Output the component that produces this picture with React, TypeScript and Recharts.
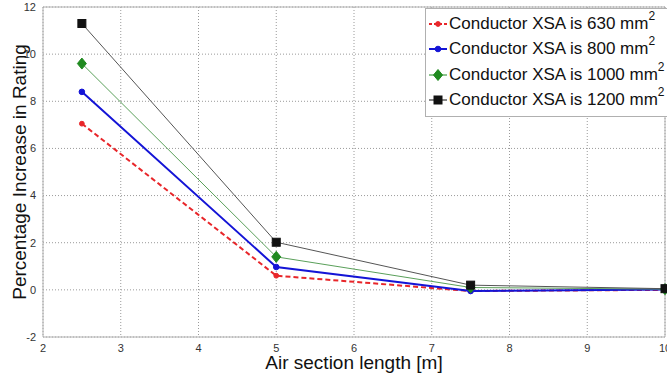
import React from 'react';
import { LineChart, Line, XAxis, YAxis, CartesianGrid, ReferenceLine, Label } from 'recharts';

const airLength = [2.5, 5, 7.5, 10];
const xsa630 = [7.05, 0.6, -0.05, 0.0];
const xsa800 = [8.4, 0.97, -0.05, 0.02];
const xsa1000 = [9.6, 1.4, 0.1, 0.03];
const xsa1200 = [11.3, 2.02, 0.2, 0.05];
const xTicks = [2, 3, 4, 5, 6, 7, 8, 9, 10];
const yTicks = [-2, 0, 2, 4, 6, 8, 10, 12];
const seriesNames = ['630', '800', '1000', '1200'];

const data = airLength.map((x, i) => ({
  x,
  s630: xsa630[i],
  s800: xsa800[i],
  s1000: xsa1000[i],
  s1200: xsa1200[i],
}));

const FONT = '"Liberation Sans", Arial, Helvetica, sans-serif';

type Shape = 'circleS' | 'circle' | 'diamond' | 'square';

const Marker = ({ cx, cy, shape, color }: { cx: number; cy: number; shape: Shape; color: string }) => {
  if (cx == null || cy == null) return null;
  if (shape === 'circleS') return <circle cx={cx} cy={cy} r={2.4} fill={color} stroke={color} />;
  if (shape === 'circle') return <circle cx={cx} cy={cy} r={2.8} fill={color} stroke={color} />;
  if (shape === 'diamond')
    return (
      <polygon
        points={`${cx},${cy - 5.5} ${cx + 4.5},${cy} ${cx},${cy + 5.5} ${cx - 4.5},${cy}`}
        fill={color}
        stroke={color}
      />
    );
  return <rect x={cx - 4} y={cy - 4} width={8} height={8} fill={color} stroke={color} />;
};

const series = [
  { key: 's630', name: seriesNames[0], color: '#e8262a', width: 2, dash: '5 3', shape: 'circleS' as Shape },
  { key: 's800', name: seriesNames[1], color: '#1414d6', width: 2, dash: undefined, shape: 'circle' as Shape },
  { key: 's1000', name: seriesNames[2], color: '#1f8a1f', width: 1, dash: undefined, shape: 'diamond' as Shape },
  { key: 's1200', name: seriesNames[3], color: '#111111', width: 1, dash: undefined, shape: 'square' as Shape },
];

const lineColor = (c: string, k: string) => (k === 's1000' ? '#5aa05a' : k === 's1200' ? '#555' : c);

const LegendBox = () => (
  <div
    style={{
      position: 'absolute',
      left: 425,
      top: 8,
      width: 250,
      background: '#fff',
      border: '1px solid #b0b0b0',
      padding: '2px 0 3px 2px',
      fontFamily: FONT,
      fontSize: 17,
      color: '#111',
      boxSizing: 'border-box',
    }}
  >
    {series.map((s) => (
      <div key={s.key} style={{ display: 'flex', alignItems: 'center', height: 25.5, whiteSpace: 'nowrap' }}>
        <svg width={20} height={14} style={{ marginRight: 1 }}>
          <line x1={1} y1={7} x2={19} y2={7} stroke={s.color} strokeWidth={s.width} strokeDasharray={s.dash ? '3 2' : undefined} />
          <Marker cx={10} cy={7} shape={s.shape} color={s.color} />
        </svg>
        <span>
          Conductor XSA is {s.name} mm<sup style={{ fontSize: 12, verticalAlign: 'top', position: 'relative', top: -5 }}>2</sup>
        </span>
      </div>
    ))}
  </div>
);

export default function App() {
  return (
    <div style={{ position: 'absolute', left: 0, top: 0, width: 667, height: 379, background: '#fff', overflow: 'hidden' }}>
      <LineChart width={667} height={379} data={data} margin={{ top: 7, right: 2, left: 0, bottom: 0 }}>
        <CartesianGrid stroke="#9a9a9a" strokeDasharray="1 2" />
        <XAxis
          dataKey="x"
          type="number"
          domain={[2, 10]}
          ticks={xTicks}
          height={42}
          tickLine={false}
          tickSize={5}
          tickMargin={2}
          axisLine={{ stroke: '#b0b0b0' }}
          tick={{ fill: '#333', fontSize: 11, fontFamily: FONT }}
          interval={0}
        >
          <Label value="Air section length [m]" position="center" dy={4} style={{ fontSize: 19, fontFamily: FONT, fill: '#111' }} />
        </XAxis>
        <YAxis
          type="number"
          domain={[-2, 12]}
          ticks={yTicks}
          width={43}
          tickLine={false}
          tickSize={5}
          tickMargin={2}
          axisLine={{ stroke: '#b0b0b0' }}
          tick={{ fill: '#333', fontSize: 11, fontFamily: FONT }}
          interval={0}
        >
          <Label value="Percentage Increase in Rating" angle={-90} position="center" dx={-2} style={{ fontSize: 19, fontFamily: FONT, fill: '#111', textAnchor: 'middle' }} />
        </YAxis>
        <ReferenceLine y={12} stroke="#b0b0b0" strokeDasharray="0" />
        <ReferenceLine x={10} stroke="#b0b0b0" strokeDasharray="0" />
        {series.map((s) => (
          <Line
            key={s.key}
            dataKey={s.key}
            name={s.name}
            stroke={lineColor(s.color, s.key)}
            strokeWidth={s.width}
            strokeDasharray={s.dash}
            isAnimationActive={false}
            dot={(p: any) => <Marker key={`${s.key}-${p.index}`} cx={p.cx} cy={p.cy} shape={s.shape} color={s.color} />}
            activeDot={false}
          />
        ))}
      </LineChart>
      <LegendBox />
    </div>
  );
}
